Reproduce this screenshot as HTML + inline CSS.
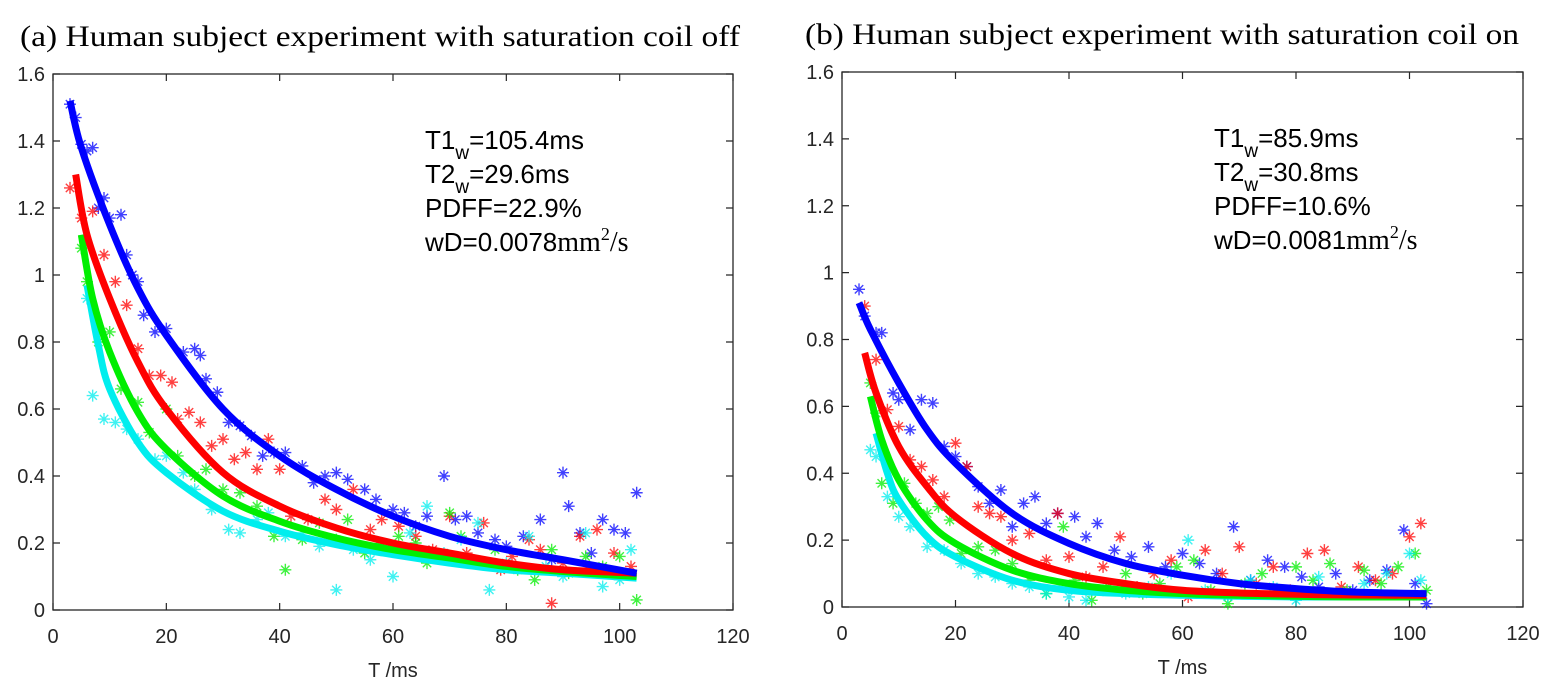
<!DOCTYPE html>
<html><head><meta charset="utf-8"><style>
body{margin:0;background:#fff;}
svg{display:block;font-family:"Liberation Sans",Arial,sans-serif;}
</style></head><body>
<svg id="fig" width="1565" height="697" viewBox="0 0 1565 697" xmlns="http://www.w3.org/2000/svg">
<text x="20" y="46" font-family="Liberation Serif,serif" font-size="30" textLength="720" lengthAdjust="spacingAndGlyphs" fill="#000">(a) Human subject experiment with saturation coil off</text>
<text x="805" y="44" font-family="Liberation Serif,serif" font-size="30" textLength="714" lengthAdjust="spacingAndGlyphs" fill="#000">(b) Human subject experiment with saturation coil on</text>
<g id="pa"></g>
<g id="pb"></g>
</svg>
<script>
const xTicks=[0,20,40,60,80,100,120];
const yTicks=[0,0.2,0.4,0.6,0.8,1,1.2,1.4,1.6];
const yTickLabels=["0","0.2","0.4","0.6","0.8","1","1.2","1.4","1.6"];
const colors=["#0000ff","#ff0000","#00ee00","#00eeee"];
const seriesNames=["blue","red","green","cyan"];
const curveTA=[[3,5,10,15,20,30,40,50,60,70,80,90,103],[4,6,10,15,20,30,40,50,60,70,80,90,103],[5,7,10,15,20,30,40,50,60,70,80,90,103],[6,8,10,15,20,30,40,50,60,70,80,90,103]];
const curveVA=[[1.52,1.38,1.15,0.96,0.82,0.60,0.46,0.36,0.28,0.22,0.18,0.15,0.11],
[1.30,1.12,0.93,0.74,0.60,0.41,0.31,0.245,0.20,0.17,0.14,0.12,0.11],
[1.12,0.93,0.77,0.59,0.48,0.34,0.265,0.215,0.18,0.155,0.13,0.115,0.10],
[0.97,0.79,0.66,0.50,0.41,0.295,0.235,0.195,0.165,0.14,0.12,0.11,0.095]];
const curveTB=curveTA;
const curveVB=[[0.91,0.83,0.67,0.53,0.43,0.28,0.19,0.13,0.095,0.07,0.055,0.045,0.04],
[0.76,0.64,0.48,0.36,0.27,0.16,0.10,0.07,0.05,0.042,0.038,0.036,0.035],
[0.63,0.50,0.38,0.26,0.19,0.11,0.07,0.05,0.04,0.035,0.032,0.03,0.03],
[0.52,0.40,0.32,0.21,0.15,0.08,0.05,0.04,0.035,0.032,0.03,0.03,0.03]];
const ptsA=[
[3,1.51,4,1.47,5,1.39,6,1.37,7,1.38,8,1.2,9,1.23,10,1.17,12,1.18,13,1.06,14,1.0,15,0.98,16,0.88,18,0.83,20,0.84,23,0.77,25,0.78,26,0.76,27,0.69,29,0.65,31,0.56,33,0.55,35,0.52,37,0.46,39,0.47,41,0.47,44,0.43,46,0.38,48,0.40,50,0.41,52,0.39,55,0.36,57,0.33,60,0.30,62,0.29,64,0.25,66,0.28,69,0.40,71,0.27,73,0.28,75,0.23,78,0.21,80,0.19,83,0.22,86,0.27,88,0.15,90,0.41,91,0.31,93,0.23,95,0.17,97,0.27,99,0.24,101,0.23,103,0.35],
[3,1.26,5,1.17,7,1.19,9,1.06,11,0.98,13,0.91,15,0.78,17,0.70,19,0.70,21,0.68,22,0.57,24,0.59,26,0.56,28,0.49,30,0.51,32,0.45,34,0.47,36,0.42,38,0.51,40,0.42,42,0.28,45,0.27,48,0.33,50,0.30,53,0.36,56,0.24,58,0.27,61,0.25,64,0.22,67,0.18,70,0.28,73,0.17,76,0.26,79,0.12,81,0.16,84,0.21,86,0.18,88,0.02,90,0.14,93,0.22,96,0.24,99,0.17,102,0.13],
[5,1.08,6,0.98,8,0.80,10,0.83,12,0.66,15,0.62,17,0.53,20,0.60,22,0.46,25,0.40,27,0.42,30,0.36,33,0.35,36,0.31,39,0.22,41,0.12,44,0.21,47,0.26,50,0.21,52,0.27,55,0.17,58,0.20,61,0.22,64,0.20,66,0.14,70,0.29,72,0.22,75,0.14,78,0.18,82,0.12,85,0.09,88,0.18,91,0.11,94,0.16,97,0.13,100,0.16,103,0.03],
[6,0.93,7,0.64,9,0.57,11,0.56,13,0.54,15,0.51,18,0.45,20,0.46,23,0.41,25,0.36,28,0.30,31,0.24,33,0.23,36,0.27,38,0.29,41,0.22,44,0.23,47,0.19,50,0.06,53,0.18,56,0.15,60,0.10,63,0.23,66,0.31,69,0.17,72,0.21,75,0.26,77,0.06,80,0.14,84,0.22,87,0.13,90,0.10,94,0.23,97,0.07,100,0.09,102,0.18]];
const ptsB=[
[3,0.95,4,0.87,6,0.82,7,0.82,9,0.64,10,0.62,12,0.53,14,0.62,16,0.61,18,0.48,20,0.45,22,0.42,24,0.36,26,0.31,28,0.35,30,0.24,32,0.31,34,0.33,36,0.25,38,0.28,41,0.27,43,0.21,45,0.25,48,0.17,51,0.15,54,0.18,57,0.12,60,0.16,63,0.13,66,0.10,69,0.24,72,0.08,75,0.14,78,0.12,81,0.09,84,0.06,87,0.10,90,0.05,93,0.08,96,0.11,99,0.23,101,0.07,103,0.01],
[4,0.90,6,0.74,8,0.59,10,0.54,12,0.44,14,0.42,16,0.38,18,0.33,20,0.49,22,0.42,24,0.30,26,0.28,28,0.27,30,0.20,33,0.22,36,0.14,38,0.28,40,0.15,43,0.09,46,0.12,49,0.21,52,0.06,55,0.10,58,0.14,61,0.03,64,0.17,67,0.10,70,0.18,73,0.07,76,0.12,79,0.05,82,0.16,85,0.17,88,0.06,91,0.12,94,0.08,97,0.10,100,0.21,102,0.25],
[5,0.67,6,0.58,7,0.37,9,0.31,11,0.37,13,0.31,15,0.28,17,0.30,19,0.26,21,0.16,24,0.18,27,0.17,30,0.13,33,0.08,36,0.04,39,0.24,41,0.08,44,0.02,47,0.06,50,0.10,53,0.04,56,0.07,59,0.12,62,0.14,65,0.05,68,0.01,71,0.07,74,0.10,77,0.04,80,0.12,83,0.08,86,0.13,89,0.05,92,0.11,95,0.07,98,0.12,101,0.16,103,0.05],
[5,0.47,6,0.45,8,0.33,10,0.27,12,0.24,15,0.18,18,0.17,21,0.13,24,0.10,27,0.09,30,0.07,33,0.06,36,0.04,40,0.03,43,0.02,46,0.05,50,0.04,54,0.06,58,0.10,61,0.20,64,0.05,68,0.03,72,0.08,76,0.06,80,0.02,84,0.09,88,0.04,92,0.07,96,0.10,100,0.16,102,0.08]];

const NS="http://www.w3.org/2000/svg";
function mk(tag,attrs,parent){const e=document.createElementNS(NS,tag);for(const k in attrs)e.setAttribute(k,attrs[k]);parent.appendChild(e);return e;}

function panel(g,box,cT,cV,pts,ann){
  const sx=t=>box.x0+(t-0)/(120-0)*(box.x1-box.x0);
  const sy=v=>box.y1-(v-0)/(1.6-0)*(box.y1-box.y0);
  const frame=mk('rect',{x:box.x0,y:box.y0,width:box.x1-box.x0,height:box.y1-box.y0,fill:'none',stroke:'#262626','stroke-width':1.3},g);
  
  
  xTicks.forEach(t=>{
    const x=sx(t);
    const tk=mk('path',{d:`M${x},${box.y1}v-7M${x},${box.y0}v7`,stroke:'#262626','stroke-width':1.2},g);
    
    
    const tl=mk('text',{x:x,y:box.y1+33,'text-anchor':'middle','font-size':20,fill:'#262626'},g);
    tl.textContent=String(t);
    
    
  });
  yTicks.forEach((v,i)=>{
    const y=sy(v);
    const tk=mk('path',{d:`M${box.x0},${y}h7M${box.x1},${y}h-7`,stroke:'#262626','stroke-width':1.2},g);
    
    
    const tl=mk('text',{x:box.x0-8,y:y+7,'text-anchor':'end','font-size':20,fill:'#262626'},g);
    tl.textContent=yTickLabels[i];
    
    
  });
  const xl=mk('text',{x:(box.x0+box.x1)/2,y:box.y1+67,'text-anchor':'middle','font-size':20,fill:'#262626'},g);
  xl.textContent='T /ms';
  
  
  pts.forEach((arr,si)=>{
    const sg=mk('g',{stroke:colors[si],'stroke-width':1.4,opacity:0.75},g);
    
    
    let d='';
    for(let i=0;i<arr.length;i+=2){
      const x=sx(arr[i]),y=sy(arr[i+1]),r=6;
      d+=`M${x-r},${y}h${2*r}M${x},${y-r}v${2*r}M${x-r*0.7},${y-r*0.7}l${r*1.4},${r*1.4}M${x-r*0.7},${y+r*0.7}l${r*1.4},${-r*1.4}`;
    }
    mk('path',{d:d,fill:'none'},sg);
  });
  [3,2,1,0].forEach(si=>{
    const T=cT[si],V=cV[si];
    const p=T.map((t,i)=>[sx(t),sy(V[i])]);
    let d=`M${p[0][0]},${p[0][1]}`;
    for(let i=0;i<p.length-1;i++){
      const p0=p[Math.max(0,i-1)],p1=p[i],p2=p[i+1],p3=p[Math.min(p.length-1,i+2)];
      const c1=[p1[0]+(p2[0]-p0[0])/6,p1[1]+(p2[1]-p0[1])/6];
      const c2=[p2[0]-(p3[0]-p1[0])/6,p2[1]-(p3[1]-p1[1])/6];
      d+=`C${c1[0]},${c1[1]} ${c2[0]},${c2[1]} ${p2[0]},${p2[1]}`;
    }
    const c=mk('path',{d:d,fill:'none',stroke:colors[si],'stroke-width':7},g);
    
    
  });
  const ag=mk('g',{'font-size':26,fill:'#000'},g);
  
  
  const ax=box.x0+372;
  ag.innerHTML=`<text x="${ax}" y="${box.y0+75}">T1<tspan font-size="19" dy="10">w</tspan><tspan dy="-10">=${ann[0]}</tspan></text>
<text x="${ax}" y="${box.y0+109}">T2<tspan font-size="19" dy="10">w</tspan><tspan dy="-10">=${ann[1]}</tspan></text>
<text x="${ax}" y="${box.y0+143}">PDFF=${ann[2]}</text>
<text x="${ax}" y="${box.y0+177}">wD=${ann[3]}<tspan font-family="Liberation Serif,serif" font-size="28">mm</tspan><tspan font-family="Liberation Serif,serif" font-size="18" dy="-11">2</tspan><tspan font-family="Liberation Serif,serif" font-size="28" dy="11">/s</tspan></text>`;
}
panel(document.getElementById('pa'),{x0:53,x1:733,y0:74,y1:610},curveTA,curveVA,ptsA,["105.4ms","29.6ms","22.9%","0.0078"]);
panel(document.getElementById('pb'),{x0:842,x1:1523,y0:72,y1:607},curveTB,curveVB,ptsB,["85.9ms","30.8ms","10.6%","0.0081"]);
</script>
</body></html>
